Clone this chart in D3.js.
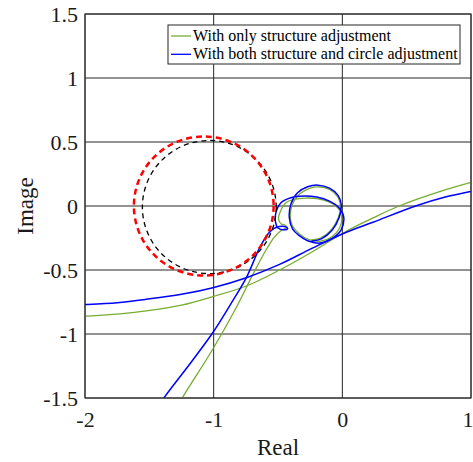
<!DOCTYPE html>
<html>
<head>
<meta charset="utf-8">
<script src="https://cdn.jsdelivr.net/npm/d3@7"></script>
<style>
  body { margin: 0; background: #fff; }
  svg { display: block; font-family: "Liberation Serif", "Times New Roman", serif; }
</style>
</head>
<body>
<svg id="chart"></svg>
<script>
// tick values
const xTicks = [-2, -1, 0, 1];
const yTicks = [-1.5, -1, -0.5, 0, 0.5, 1, 1.5];

// legend entries
const seriesNames = ["With only structure adjustment", "With both structure and circle adjustment"];
const seriesColors = ["#77ac30", "#0000ff"];

// green : only structure adjustment
const greenShallow = [
  [-2.05, -0.864], [-2.0, -0.861], [-1.75, -0.845], [-1.524, -0.82], [-1.25, -0.775],
  [-1.006, -0.708], [-0.746, -0.625], [-0.488, -0.5], [-0.229, -0.355], [0.031, -0.197],
  [0.238, -0.093], [0.446, 0.002], [0.75, 0.11], [1.0, 0.185], [1.05, 0.2]
];
const greenLoop = [
  [-1.3, -1.6], [-1.24, -1.493], [-1.006, -1.117], [-0.824, -0.793], [-0.695, -0.534],
  [-0.591, -0.34], [-0.53, -0.245], [-0.48, -0.195], [-0.43, -0.165], [-0.445, -0.15],
  [-0.475, -0.14], [-0.495, -0.105], [-0.49, -0.065], [-0.438, 0.026], [-0.373, 0.052],
  [-0.29, 0.062], [-0.2, 0.058], [-0.1, 0.03], [-0.03, -0.02], [-0.005, -0.09],
  [-0.02, -0.17], [-0.08, -0.24], [-0.17, -0.275], [-0.26, -0.262], [-0.33, -0.22],
  [-0.39, -0.15], [-0.405, -0.07], [-0.385, 0.02], [-0.33, 0.095], [-0.25, 0.14],
  [-0.19, 0.15], [-0.1, 0.13], [-0.035, 0.07], [-0.015, -0.01], [-0.035, -0.1],
  [-0.09, -0.19], [-0.17, -0.25], [-0.24, -0.265]
];

// blue : structure and circle adjustment
const blueShallow = [
  [-2.05, -0.772], [-2.0, -0.77], [-1.75, -0.755], [-1.524, -0.729], [-1.25, -0.69],
  [-1.006, -0.638], [-0.746, -0.56], [-0.488, -0.456], [-0.229, -0.327], [0.031, -0.205],
  [0.238, -0.127], [0.575, 0.002], [0.8, 0.07], [1.0, 0.114], [1.05, 0.124]
];
const blueLoop = [
  [-1.45, -1.6], [-1.382, -1.493], [-1.19, -1.24], [-1.006, -0.988], [-0.87, -0.77],
  [-0.746, -0.56], [-0.643, -0.327], [-0.58, -0.22], [-0.53, -0.175], [-0.49, -0.16],
  [-0.44, -0.163], [-0.425, -0.176], [-0.45, -0.186], [-0.5, -0.172], [-0.52, -0.12],
  [-0.516, -0.052], [-0.477, 0.026], [-0.4, 0.065], [-0.296, 0.078], [-0.2, 0.07],
  [-0.1, 0.038], [-0.03, -0.01], [0.01, -0.081], [-0.008, -0.184], [-0.073, -0.249],
  [-0.176, -0.29], [-0.27, -0.272], [-0.334, -0.232], [-0.386, -0.18], [-0.412, -0.091],
  [-0.4, 0.013], [-0.348, 0.103], [-0.27, 0.15], [-0.19, 0.163], [-0.1, 0.14],
  [-0.035, 0.085], [-0.008, 0.01], [-0.025, -0.09], [-0.08, -0.19], [-0.16, -0.255],
  [-0.24, -0.275]
];

// dashed reference circles: [cx, cy, r]
const redCircle = [-1.077, 0, 0.543];
const blackCircle = [-1.034, -0.008, 0.52];

const width = 473, height = 462;
const margin = { top: 14, right: 2, bottom: 64, left: 85 };

const svg = d3.select("#chart").attr("width", width).attr("height", height);

const x = d3.scaleLinear().domain([-2, 1]).range([margin.left, width - margin.right]);
const y = d3.scaleLinear().domain([-1.5, 1.5]).range([height - margin.bottom, margin.top]);

svg.append("defs").append("clipPath").attr("id", "plotclip")
  .append("rect")
  .attr("x", x(-2)).attr("y", y(1.5))
  .attr("width", x(1) - x(-2)).attr("height", y(-1.5) - y(1.5));

// grid
const grid = svg.append("g").attr("stroke", "#262626").attr("stroke-width", 1);
grid.selectAll(".vx").data(xTicks).join("line")
  .attr("x1", d => x(d)).attr("x2", d => x(d))
  .attr("y1", y(-1.5)).attr("y2", y(1.5));
grid.selectAll(".hy").data(yTicks).join("line")
  .attr("x1", x(-2)).attr("x2", x(1))
  .attr("y1", d => y(d)).attr("y2", d => y(d));

// axes (plain hyphen minus like the original)
const fmt = d => String(d);
const xAxis = svg.append("g")
  .attr("transform", `translate(0,${y(-1.5)})`)
  .call(d3.axisBottom(x).tickValues(xTicks).tickFormat(fmt).tickSize(0).tickPadding(13));
const yAxis = svg.append("g")
  .attr("transform", `translate(${x(-2)},0)`)
  .call(d3.axisLeft(y).tickValues(yTicks).tickFormat(fmt).tickSize(0).tickPadding(7));
[xAxis, yAxis].forEach(a => {
  a.select(".domain").remove();
  a.selectAll("text")
    .attr("fill", "#1a1a1a")
    .style("font-family", "'Liberation Serif', serif")
    .style("font-size", "22px");
});
// last x label sits against the window edge
xAxis.selectAll(".tick").filter(d => d === 1).select("text")
  .attr("text-anchor", "end").attr("x", 2);

const plot = svg.append("g").attr("clip-path", "url(#plotclip)");

const line = d3.line()
  .x(d => x(d[0]))
  .y(d => y(d[1]))
  .curve(d3.curveCatmullRom.alpha(0.5));

// green first, then blue on top
[[greenShallow, greenLoop, seriesColors[0], 1.3], [blueShallow, blueLoop, seriesColors[1], 1.5]]
  .forEach(([shallow, loop, color, w]) => {
    [shallow, loop].forEach(pts => {
      plot.append("path")
        .datum(pts)
        .attr("d", line)
        .attr("fill", "none")
        .attr("stroke", color)
        .attr("stroke-width", w);
    });
  });

// dashed circles
function drawCircle(c, color, w, dash) {
  plot.append("ellipse")
    .attr("cx", x(c[0])).attr("cy", y(c[1]))
    .attr("rx", x(c[0] + c[2]) - x(c[0]))
    .attr("ry", y(c[1]) - y(c[1] + c[2]))
    .attr("fill", "none")
    .attr("stroke", color)
    .attr("stroke-width", w)
    .attr("stroke-dasharray", dash);
}
drawCircle(blackCircle, "#000", 1.3, "5,4");
drawCircle(redCircle, "#ff0000", 2.5, "6,4");

// box
svg.append("rect")
  .attr("x", x(-2)).attr("y", y(1.5))
  .attr("width", x(1) - x(-2)).attr("height", y(-1.5) - y(1.5))
  .attr("fill", "none").attr("stroke", "#262626").attr("stroke-width", 1);

// axis labels
svg.append("text")
  .attr("x", (x(-2) + x(1)) / 2).attr("y", 455)
  .attr("text-anchor", "middle")
  .style("font-size", "23px").attr("fill", "#1a1a1a")
  .text("Real");
svg.append("text")
  .attr("transform", `translate(33,${y(0)}) rotate(-90)`)
  .attr("text-anchor", "middle")
  .style("font-size", "23px").attr("fill", "#1a1a1a")
  .text("Image");

// legend
const legend = svg.append("g").attr("transform", "translate(168,25)");
legend.append("rect")
  .attr("width", 292).attr("height", 39)
  .attr("fill", "#fff").attr("stroke", "#262626").attr("stroke-width", 1);
seriesNames.forEach((name, i) => {
  const ly = 11 + i * 18.3;
  legend.append("line")
    .attr("x1", 3).attr("x2", 23).attr("y1", ly).attr("y2", ly)
    .attr("stroke", seriesColors[i]).attr("stroke-width", 1.3);
  legend.append("text")
    .attr("x", 25).attr("y", ly + 5)
    .style("font-size", "16px").attr("fill", "#000")
    .text(name);
});
</script>
</body>
</html>
